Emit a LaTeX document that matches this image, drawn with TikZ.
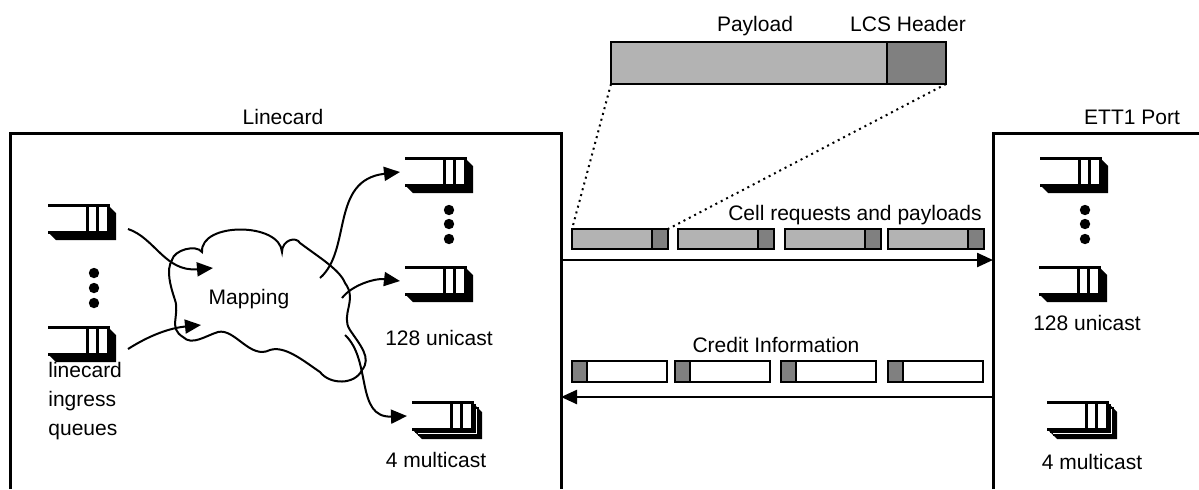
\documentclass[tikz,border=0pt]{standalone}
\usepackage{fontspec}
\setmainfont{Liberation Sans}
\usetikzlibrary{arrows.meta}

\definecolor{paygray}{HTML}{B3B3B3}
\definecolor{hdrgray}{HTML}{808080}

\tikzset{
  qline/.style={line width=1.5pt},
  frame/.style={line width=1.5pt},
  bus/.style={line width=1.2pt,-{Triangle[length=8pt,width=7pt]}},
  flow/.style={line width=1pt,-{Triangle[length=8pt,width=7pt]}},
  cellbox/.style={line width=1.2pt},
  lbl/.style={font=\fontsize{10.5}{12}\selectfont,inner sep=0pt,anchor=base},
  qdot/.style={fill=black},
  % one queue: open on the left, two bars, black shadow
  queue/.pic={
    \fill (0,27) -- (8,35) -- (68,35) -- (68,8) -- (60,0) -- cycle;
    \fill[white] (0,0) rectangle (60,27);
    \draw[qline] (0,0) -- (60,0) -- (60,27) -- (0,27);
    \draw[qline] (39,0) -- (39,27) (49,0) -- (49,27);
    \coordinate (-in) at (-5,14);
  },
  % stacked queues
  mqueue/.pic={
    \fill (0,27) -- (10,37) -- (70,37) -- (70,10) -- (60,0) -- cycle;
    \foreach \d in {6,3} {
      \draw[line width=0.6pt,fill=white] (\d,\d) -- (60+\d,\d) -- (60+\d,27+\d) -- (\d,27+\d);
    }
    \fill[white] (0,0) rectangle (60,27);
    \draw[qline] (0,0) -- (60,0) -- (60,27) -- (0,27);
    \draw[qline] (39,0) -- (39,27) (49,0) -- (49,27);
    \coordinate (-in) at (-5,14);
  },
}

\begin{document}
\begin{tikzpicture}[x=0.5pt,y=-0.5pt]
  \useasboundingbox (0,0) rectangle (1199,489);

  % Frames
  \draw[frame] (10,489) -- (10,133) -- (561,133) -- (561,489);
  \draw[frame] (993,489) -- (993,133) -- (1199,133);
  \node[lbl] (linecard) at (283,124) {Linecard};
  \node[lbl] (ett) at (1132,124) {ETT1 Port};

  % Cell format
  \fill[paygray] (611,42) rectangle (887,84);
  \fill[hdrgray] (887,42) rectangle (946,84);
  \draw[cellbox] (611,42) rectangle (946,84) (887,42) -- (887,84);
  \coordinate (pl) at (611,84);
  \coordinate (pr) at (946,84);
  \node[lbl] (payload) at (755,31) {Payload};
  \node[lbl] (header) at (908,31) {LCS Header};

  % Linecard queues
  \pic (L1) at (48,205) {queue};
  \pic (L2) at (48,327) {queue};
  \foreach \y in {273,288,303} \fill[qdot] (94,\y) circle[radius=2.6pt];
  \node[lbl,anchor=base west] (lq1) at (48,377) {linecard};
  \node[lbl,anchor=base west] (lq2) at (48,406) {ingress};
  \node[lbl,anchor=base west] (lq3) at (48,435) {queues};

  % Mapping cloud
  \draw[line width=1pt,fill=white] (202,252)
    .. controls (200,222) and (280,222) .. (282,252)
    .. controls (282,240) and (296,236) .. (300,243)
    .. controls (320,258) and (340,270) .. (345,283)
    .. controls (358,300) and (340,315) .. (350,330)
    .. controls (360,345) and (372,358) .. (362,370)
    .. controls (355,385) and (330,385) .. (320,372)
    .. controls (305,362) and (285,345) .. (270,350)
    .. controls (250,360) and (235,328) .. (218,332)
    .. controls (205,336) and (192,346) .. (183,337)
    .. controls (168,328) and (180,315) .. (175,300)
    .. controls (170,285) and (166,270) .. (172,260)
    .. controls (174,250) and (196,244) .. (202,252) -- cycle;
  \node[lbl] (mapping) at (249,304) {Mapping};
  \coordinate (m1) at (213,268);
  \coordinate (m2) at (201,325);
  \coordinate (c1) at (320,278);
  \coordinate (c2) at (342,298);
  \coordinate (c3) at (345,335);

  % Egress queues on the linecard
  \pic (M1) at (405,158) {queue};
  \pic (M2) at (405,267) {queue};
  \pic (M3) at (412,402) {mqueue};
  \foreach \y in {210,224,239} \fill[qdot] (449,\y) circle[radius=2.6pt];
  \node[lbl] (muni) at (439,345) {128 unicast};
  \node[lbl] (mmul) at (436,467) {4 multicast};

  \draw[flow] (L1-in) ++(85,10) coordinate (o1) .. controls (155,238) and (165,272) .. (m1);
  \draw[flow] (L2-in) ++(85,8) coordinate (o2) .. controls (150,335) and (170,328) .. (m2);
  \draw[flow] (c1) .. controls (352,250) and (330,180) .. (M1-in);
  \draw[flow] (c2) .. controls (352,285) and (375,278) .. (M2-in);
  \draw[flow] (c3) .. controls (372,360) and (355,418) .. (M3-in);

  % Requests and payloads to the port
  \foreach \x in {572,678,785,888} {
    \fill[paygray] (\x,229) rectangle (\x+80,249);
    \fill[hdrgray] (\x+80,229) rectangle (\x+96,249);
    \draw[cellbox] (\x,229) rectangle (\x+96,249) (\x+80,229) -- (\x+80,249);
  }
  \coordinate (c1l) at (572,229);
  \coordinate (c1r) at (668,229);
  \draw[line width=1pt,dotted] (pl) -- (c1l);
  \draw[line width=1pt,dotted] (pr) -- (c1r);
  \node[lbl,anchor=base east] (req) at (982,220) {Cell requests and payloads};
  \coordinate (txl) at (561,260);
  \coordinate (txr) at (993,260);
  \draw[bus] (txl) -- (txr);

  % Credits back to the linecard
  \foreach \x in {572,675,781,888} {
    \fill[hdrgray] (\x,361) rectangle (\x+15,382);
    \draw[cellbox] (\x,361) rectangle (\x+95,382) (\x+15,361) -- (\x+15,382);
  }
  \node[lbl] (credit) at (776,352) {Credit Information};
  \coordinate (rxr) at (993,397);
  \coordinate (rxl) at (561,397);
  \draw[bus] (rxr) -- (rxl);

  % ETT1 port queues
  \pic (R1) at (1040,158) {queue};
  \pic (R2) at (1039,267) {queue};
  \pic (R3) at (1047,402) {mqueue};
  \foreach \y in {210,224,239} \fill[qdot] (1085,\y) circle[radius=2.6pt];
  \node[lbl] (runi) at (1087,330) {128 unicast};
  \node[lbl] (rmul) at (1092,469) {4 multicast};
\end{tikzpicture}
\end{document}
